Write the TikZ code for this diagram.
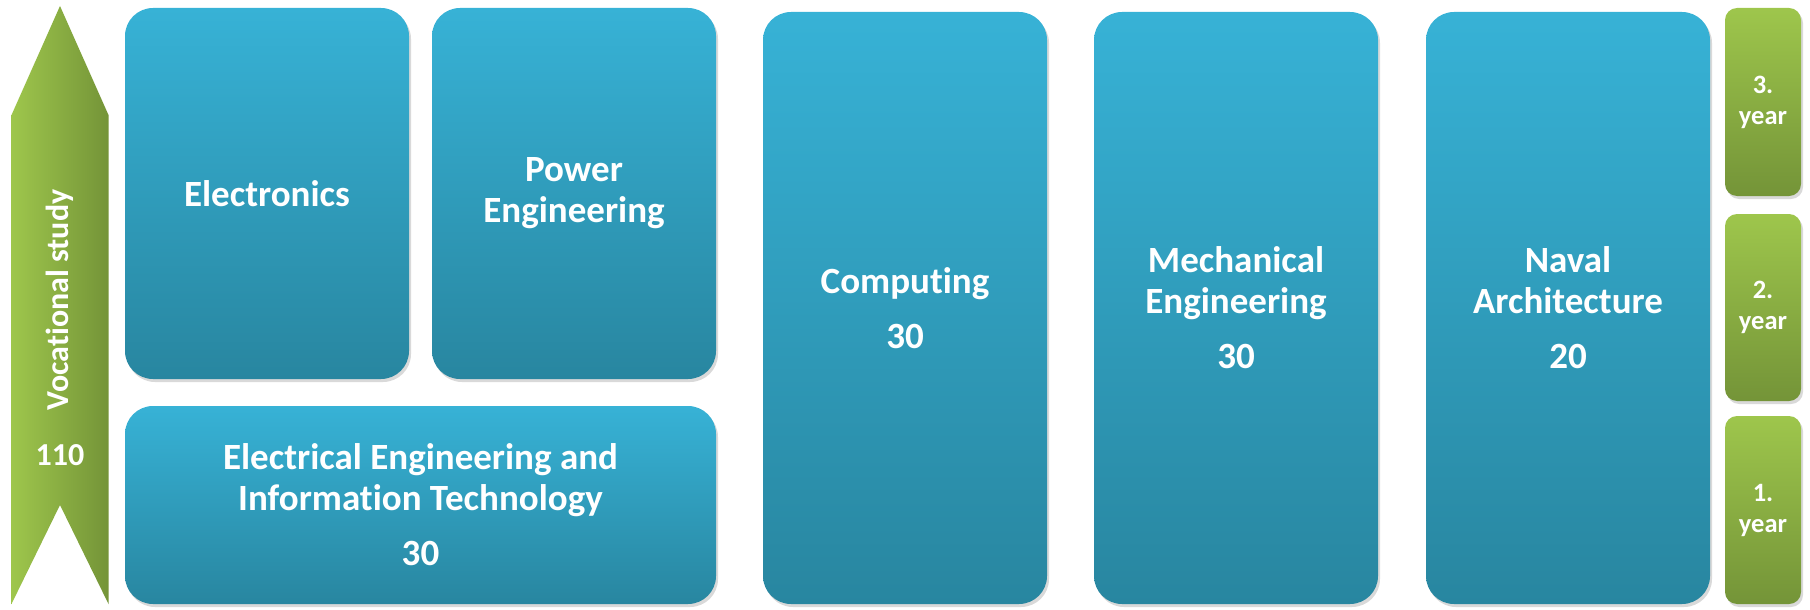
\documentclass[tikz,border=0pt]{standalone}
\usepackage{fontspec}
\setmainfont{Carlito}[Ligatures=CommonOff]
\usetikzlibrary{shadows}
\definecolor{bluetop}{RGB}{55,178,214}
\definecolor{bluebot}{RGB}{40,134,160}
\definecolor{greenlight}{RGB}{158,198,76}
\definecolor{greendark}{RGB}{116,148,56}
\tikzset{
  study/.style={rectangle, rounded corners=28pt, top color=bluetop, bottom color=bluebot,
    text=white, align=center, inner sep=0pt, minimum width=284pt,
    font=\bfseries\fontsize{37}{41}\selectfont,
    drop shadow={opacity=0.3, shadow xshift=2pt, shadow yshift=-3pt}},
  yearbox/.style={rectangle, rounded corners=12pt, top color=greenlight, bottom color=greendark,
    text=white, align=center, inner sep=0pt, minimum width=76pt,
    font=\bfseries\fontsize{26.5}{31}\selectfont,
    drop shadow={opacity=0.3, shadow xshift=2pt, shadow yshift=-3pt}},
  voclabel/.style={text=white, font=\bfseries\fontsize{32}{36}\selectfont}
}
\begin{document}
\begin{tikzpicture}[x=1pt,y=-1pt]
      \useasboundingbox (0,0) rectangle (1810,610);
      % Vocational study arrow
      \shade[left color=greenlight, right color=greendark]
        (11.5,115) -- (60,6) -- (108.5,115) -- (108.5,604) -- (60,505) -- (11.5,604) -- cycle;
      \node[voclabel, rotate=90] (voc) at (60,300) {Vocational study};
      \node[voclabel] (voctotal) at (60,455) {110};
      % Study programmes
      \node[study, minimum height=371pt] (elec) at (267,193.5) {Electronics};
      \node[study, minimum height=371pt] (power) at (574,193.5) {Power\\Engineering};
      \node[study, minimum width=591pt, minimum height=198pt] (eeit) at (420.5,505)
        {Electrical Engineering and\\Information Technology\\[14pt]30};
      \node[study, minimum height=592pt] (comp) at (905,308) {Computing\\[14pt]30};
      \node[study, minimum height=592pt] (mech) at (1236,308) {Mechanical\\Engineering\\[14pt]30};
      \node[study, minimum height=592pt] (naval) at (1568,308) {Naval\\Architecture\\[14pt]20};
      % Years
      \node[yearbox, minimum height=188pt] (third) at (1763,102) {3.\\year};
      \node[yearbox, minimum height=187pt] (second) at (1763,307.5) {2.\\year};
      \node[yearbox, minimum height=188pt] (first) at (1763,510) {1.\\year};
\end{tikzpicture}
\end{document}
